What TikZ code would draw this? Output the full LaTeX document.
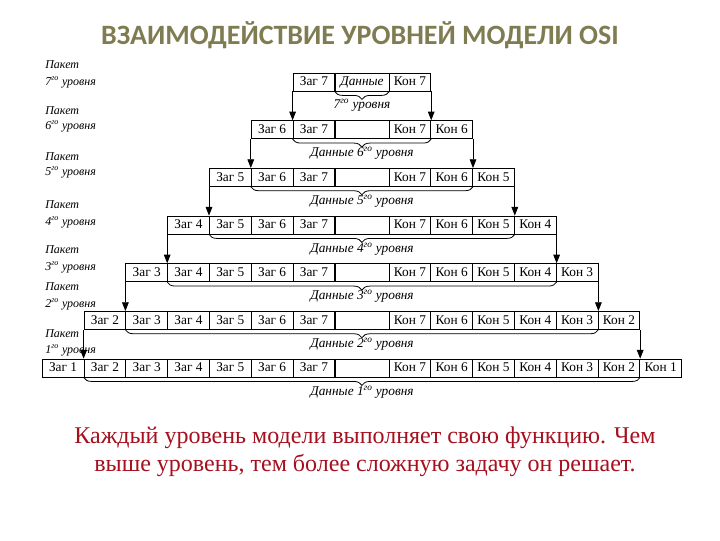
\documentclass[tikz,border=0pt]{standalone}
\usepackage{fontspec}
\setmainfont{Liberation Serif}
\newfontfamily\titlefont{Carlito}
\usetikzlibrary{arrows.meta,decorations.pathreplacing}
\definecolor{titlecol}{RGB}{128,124,82}
\definecolor{textred}{RGB}{165,15,30}
\begin{document}
\begin{tikzpicture}[x=0.75pt,y=-0.75pt,
 cell/.style={draw,line width=0.6pt,minimum width=31.35pt,minimum height=13.5pt,inner sep=0pt,text height=7pt,text depth=1.5pt,font=\fontsize{10}{12}\selectfont},
 gapcell/.style={cell,minimum width=40.5pt},
 lbl/.style={font=\fontsize{9}{11}\selectfont\itshape,anchor=west,inner sep=0pt},
 blbl/.style={font=\fontsize{10}{12}\selectfont\itshape,inner sep=0pt},
 flow/.style={line width=0.6pt,-{Triangle[width=5pt,length=6.5pt]}},
 brc/.style={line width=0.6pt,decorate,decoration={brace,mirror,amplitude=6pt}}
]
\useasboundingbox (0,0) rectangle (720,540);

\node[font=\titlefont\bfseries\fontsize{21}{25}\selectfont, text=titlecol] (title) at (360,35) {ВЗАИМОДЕЙСТВИЕ УРОВНЕЙ МОДЕЛИ OSI};

% cells
\foreach \k in {1,...,7}{
  \pgfmathsetmacro\yy{82+(7-\k)*47.67}
  \foreach \j in {\k,...,7}{
    \pgfmathsetmacro\xh{293-(7-\j)*41.8+20.9}
    \pgfmathsetmacro\xt{389+(7-\j)*41.8+20.9}
    \node[cell] (h-\k-\j) at (\xh,\yy) {Заг \j};
    \node[cell] (t-\k-\j) at (\xt,\yy) {Кон \j};
  }
}
\foreach \k in {1,...,6}{
  \pgfmathsetmacro\yy{82+(7-\k)*47.67}
  \node[gapcell] (g-\k) at (362,\yy) {};
}
\node[gapcell,font=\fontsize{10}{12}\selectfont\itshape] (g-7) at (362,82) {Данные};

% arrows
\foreach \k [evaluate=\k as \n using int(\k+1)] in {1,...,6}{
  \draw[flow] (h-\n-\n.south west) -- (h-\k-\n.north west);
  \draw[flow] (t-\n-\n.south east) -- (t-\k-\n.north east);
}

% braces
\draw[brc] (g-7.south west) -- (g-7.south east);
\path (g-7.south) ++(0,13.5) node[blbl] (b-7) {7\textsuperscript{го} уровня};
\foreach \k [evaluate=\k as \n using int(\k+1)] in {1,...,6}{
  \draw[brc] (h-\k-\n.south west) -- (t-\k-\n.south east);
  \path (g-\k.south) ++(0,14.5) node[blbl] (b-\k) {Данные \k\textsuperscript{го} уровня};
}

% left labels
\foreach \k/\ya/\yb in {7/65/82,6/111/126,5/157/172,4/205/222,3/250/267,2/287/304,1/334/350}{
  \node[lbl] (p-\k) at (45,\ya) {Пакет};
  \node[lbl] (u-\k) at (45,\yb) {\k\textsuperscript{го} уровня};
}

\node[font=\fontsize{18}{21}\selectfont, text=textred, align=center] (note) at (365,452)
  {Каждый уровень модели выполняет свою функцию. Чем\\выше уровень, тем более сложную задачу он решает.};
\end{tikzpicture}
\end{document}
